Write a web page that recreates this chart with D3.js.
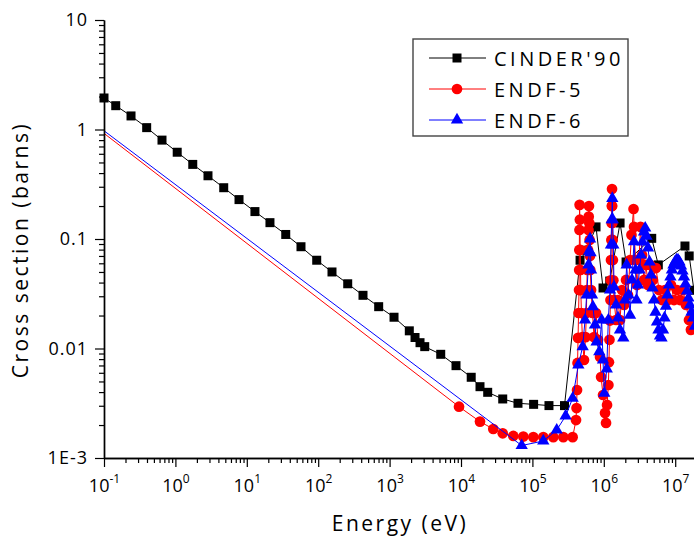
<!DOCTYPE html>
<html><head><meta charset="utf-8">
<script src="https://cdn.jsdelivr.net/npm/d3@7"></script>
<style>
body{margin:0;background:#fff}
svg{display:block}
text{font-family:"Open Sans",sans-serif;fill:#000}
</style>
</head><body>
<svg id="c" width="694" height="538"></svg>
<script>
// ---- DATA (energy in eV, cross section in barns) ----
const cinder = [
 [0.1,1.94],[0.146,1.65],[0.239,1.33],[0.396,1.04],[0.649,0.80],[1.06,0.62],[1.75,0.48],
 [2.86,0.378],[4.75,0.294],[7.78,0.229],[13.0,0.178],[21.1,0.141],[35.1,0.110],[57.4,0.085],
 [95.3,0.064],[156,0.050],[259,0.039],[424,0.0306],[703,0.0241],[1153,0.0193],[1888,0.0145],
 [2270,0.0126],[2667,0.0113],[3104,0.0104],[5200,0.00885],[8511,0.00697],[13900,0.00546],
 [18450,0.00448],[23650,0.00398],[38400,0.00346],[62800,0.00316],[104000,0.00309],
 [170600,0.00301],[281600,0.00301],[4.65e5,0.064],[5.75e5,0.079],[7.78e5,0.129],
 [9.75e5,0.0357],[1.21e6,0.0413],[1.69e6,0.140],[2.05e6,0.0617],[4.69e6,0.1014],
 [5.80e6,0.058],[1.37e7,0.0863],[1.57e7,0.070],[1.83e7,0.034]
];
const endf5 = [
 [1e-5,94],[9380,0.00294],[18450,0.00215],[28300,0.00184],[38400,0.00168],[54000,0.00159],
 [74600,0.00157],[103000,0.00155],[142000,0.00155],[196000,0.00155],[271000,0.00155],[366000,0.00155],
 [4.08e5,0.00222],[4.15e5,0.00286],[4.22e5,0.00418],[4.29e5,0.00738],[4.36e5,0.0125],[4.43e5,0.0211],
 [4.50e5,0.0342],[4.52e5,0.0521],[4.54e5,0.0794],[4.56e5,0.121],[4.58e5,0.205],[4.62e5,0.150],
 [4.67e5,0.0794],[4.72e5,0.0521],[4.76e5,0.0342],[4.86e5,0.0211],
 [5.01e5,0.0127],[5.28e5,0.00785],[5.55e5,0.0127],[5.70e5,0.0211],[5.78e5,0.0342],[5.86e5,0.0521],
 [6.01e5,0.0794],[6.10e5,0.121],[6.15e5,0.160],[6.20e5,0.200],[6.26e5,0.140],[6.33e5,0.098],[6.40e5,0.070],
 [6.47e5,0.0521],[6.63e5,0.0342],
 [6.95e5,0.0211],[7.30e5,0.0127],[7.78e5,0.0211],[8.30e5,0.0120],[8.86e5,0.00836],[9.16e5,0.00549],
 [9.75e5,0.00376],[1.04e6,0.00258],[1.074e6,0.00209],[1.11e6,0.00305],[1.16e6,0.00464],[1.18e6,0.0075],
 [1.20e6,0.0120],[1.22e6,0.0180],[1.24e6,0.0277],[1.25e6,0.042],[1.26e6,0.0643],[1.275e6,0.098],
 [1.285e6,0.140],[1.295e6,0.200],[1.303e6,0.286],[1.31e6,0.200],[1.32e6,0.140],[1.33e6,0.098],
 [1.34e6,0.0643],[1.36e6,0.042],
 [1.39e6,0.0277],[1.483e6,0.0182],[1.582e6,0.0277],[1.687e6,0.0182],[1.80e6,0.0342],[1.92e6,0.0250],
 [2.05e6,0.0423],[2.18e6,0.0308],[2.33e6,0.0643],[2.44e6,0.109],[2.61e6,0.188],[2.65e6,0.129],
 [2.78e6,0.0643],[2.92e6,0.038],[3.11e6,0.0643],[3.27e6,0.129],[3.43e6,0.0714],[3.66e6,0.0423],
 [3.90e6,0.058],[4.16e6,0.038],[4.44e6,0.058],[4.88e6,0.0423],[5.38e6,0.0543],[5.92e6,0.0342],
 [6.53e6,0.0277],[7.20e6,0.0342],[7.93e6,0.0277],[8.73e6,0.038],[9.62e6,0.0277],[1.06e7,0.0342],
 [1.167e7,0.0277],[1.285e7,0.0342],[1.416e7,0.025],[1.56e7,0.0182],[1.66e7,0.0148],[1.832e7,0.0182],[2.0e7,0.0148]
];
const endf6 = [
 [1e-5,90],[70800,0.0013],[142000,0.00143],[219000,0.0018],[292000,0.00242],[366000,0.00351],
 [4.40e5,0.00706],[5.06e5,0.0104],[5.46e5,0.0182],[5.75e5,0.0308],[6.10e5,0.058],[6.25e5,0.078],[6.42e5,0.100],
 [6.52e5,0.075],[6.63e5,0.0521],[6.84e5,0.0308],[7.03e5,0.0241],[7.52e5,0.0164],[7.92e5,0.0115],[8.65e5,0.00935],
 [9.33e5,0.0182],[9.75e5,0.00785],[1.016e6,0.0039],[1.10e6,0.0065],[1.156e6,0.0182],[1.222e6,0.0342],
 [1.26e6,0.0881],[1.29e6,0.150],[1.315e6,0.235],[1.335e6,0.150],[1.36e6,0.0881],[1.39e6,0.0365],[1.483e6,0.025],[1.582e6,0.019],
 [1.687e6,0.0148],[1.875e6,0.0125],[1.98e6,0.0277],[2.09e6,0.058],[2.22e6,0.0308],[2.33e6,0.0202],
 [2.48e6,0.0423],[2.65e6,0.0945],[2.78e6,0.0521],[2.87e6,0.0277],[3.01e6,0.038],[3.16e6,0.0521],
 [3.32e6,0.0714],[3.48e6,0.0939],[3.66e6,0.116],[3.80e6,0.126],[3.96e6,0.106],[4.16e6,0.0828],
 [4.37e6,0.0617],[4.58e6,0.0469],[4.81e6,0.0357],[5.05e6,0.0277],[5.30e6,0.0215],[5.56e6,0.0175],
 [5.83e6,0.0148],[6.12e6,0.013],[6.43e6,0.0125],[6.75e6,0.0148],[7.08e6,0.019],[7.43e6,0.0244],
 [7.80e6,0.0308],[8.19e6,0.038],[8.58e6,0.045],[9.0e6,0.0521],[9.44e6,0.058],[9.93e6,0.0617],
 [1.04e7,0.0643],[1.094e7,0.0643],[1.148e7,0.0617],[1.205e7,0.0567],[1.265e7,0.051],[1.327e7,0.045],
 [1.393e7,0.0388],[1.462e7,0.0335],[1.535e7,0.0289],[1.611e7,0.025],[1.69e7,0.0215],[1.774e7,0.019],[1.89e7,0.016]
];
const seriesNames = ["CINDER'90", "ENDF-5", "ENDF-6"];
const xMajor = [0.1, 1, 10, 100, 1e3, 1e4, 1e5, 1e6, 1e7];
const xExponents = ["-1", "0", "1", "2", "3", "4", "5", "6", "7"];
const yMajor = [1e-3, 1e-2, 0.1, 1, 10];
const yLabels = ["1E-3", "0.01", "0.1", "1", "10"];
const xTitle = "Energy (eV)";
const yTitle = "Cross section (barns)";

// ---- CHART ----
const svg = d3.select("#c");
const x = d3.scaleLog().domain([0.1, 2e7]).range([104, 696.7]);
const y = d3.scaleLog().domain([1e-3, 10]).range([458, 20]);

const defs = svg.append("defs");
defs.append("clipPath").attr("id", "lineClip").append("rect")
  .attr("x", 104).attr("y", 0).attr("width", 600).attr("height", 470);
defs.append("clipPath").attr("id", "markClip").append("rect")
  .attr("x", 95).attr("y", 0).attr("width", 610).attr("height", 470);

const styles = [
  {color: "#000000", sym: d3.symbolSquare, size: 81},
  {color: "#ff0000", sym: d3.symbolCircle, size: 90},
  {color: "#0000ff", sym: d3.symbolTriangle, size: 66}
];
const allSeries = [cinder, endf5, endf6];
const line = d3.line().x(d => x(d[0])).y(d => y(d[1]));

allSeries.forEach((data, i) => {
  const st = styles[i];
  const g = svg.append("g");
  g.append("path").datum(data).attr("d", line)
    .attr("fill", "none").attr("stroke", st.color).attr("stroke-width", 1)
    .attr("clip-path", "url(#lineClip)");
  g.append("g").attr("clip-path", "url(#markClip)")
    .selectAll("path").data(data).join("path")
    .attr("transform", d => `translate(${x(d[0])},${y(d[1])})`)
    .attr("d", d3.symbol().type(st.sym).size(st.size)())
    .attr("fill", st.color);
});

// minor tick values (2..9 within each decade)
const xMinor = [], yMinor = [];
for (let e = -1; e <= 7; e++) for (let m = 2; m <= 9; m++) { const v = m * Math.pow(10, e); if (v <= 2e7) xMinor.push(v); }
for (let e = -3; e <= 0; e++) for (let m = 2; m <= 9; m++) yMinor.push(m * Math.pow(10, e));

// x axis
const gxMin = svg.append("g").attr("transform", "translate(0,458)")
  .call(d3.axisBottom(x).tickValues(xMinor).tickSize(5).tickSizeOuter(0).tickFormat(""));
const gxMaj = svg.append("g").attr("transform", "translate(0,458)")
  .call(d3.axisBottom(x).tickValues(xMajor).tickSize(9).tickSizeOuter(0).tickPadding(12).tickFormat(() => "10"));
gxMaj.selectAll(".tick text").each(function(d, i) {
  d3.select(this).append("tspan").attr("dy", -9).attr("font-size", 12).text(xExponents[i]);
});
// y axis
const gyMin = svg.append("g").attr("transform", "translate(104,0)")
  .call(d3.axisLeft(y).tickValues(yMinor).tickSize(5).tickSizeOuter(0).tickFormat(""));
const gyMaj = svg.append("g").attr("transform", "translate(104,0)")
  .call(d3.axisLeft(y).tickValues(yMajor).tickSize(9).tickSizeOuter(0).tickPadding(7).tickFormat((d, i) => yLabels[i]));

[gxMin, gxMaj, gyMin, gyMaj].forEach(g => {
  g.attr("font-family", null).attr("font-size", 18);
  g.selectAll("path.domain").attr("stroke", "#000").attr("stroke-width", 1.4);
  g.selectAll(".tick line").attr("stroke", "#000").attr("stroke-width", 1.2);
  g.selectAll(".tick text").attr("fill", "#000").style("font-family", '"Open Sans", sans-serif');
});
gyMaj.selectAll(".tick text").attr("letter-spacing", 1);

// axis titles
svg.append("text").attr("x", 400).attr("y", 531).attr("text-anchor", "middle")
  .attr("font-size", 21).attr("letter-spacing", 2.5).text(xTitle);
svg.append("text").attr("transform", "translate(28,250) rotate(-90)").attr("text-anchor", "middle")
  .attr("font-size", 21).attr("letter-spacing", 2.5).text(yTitle);

// legend
const lg = svg.append("g");
lg.append("rect").attr("x", 413).attr("y", 39).attr("width", 215).attr("height", 97)
  .attr("fill", "#fff").attr("stroke", "#444").attr("stroke-width", 1.4);
const rowsY = [58, 89, 120];
seriesNames.forEach((name, i) => {
  const st = styles[i];
  lg.append("line").attr("x1", 429).attr("x2", 486).attr("y1", rowsY[i]).attr("y2", rowsY[i])
    .attr("stroke", st.color).attr("stroke-width", 1);
  lg.append("path").attr("transform", `translate(457,${rowsY[i]})`)
    .attr("d", d3.symbol().type(st.sym).size(st.size)()).attr("fill", st.color);
  lg.append("text").attr("x", 494).attr("y", rowsY[i] + 7.5).attr("font-size", 20)
    .attr("letter-spacing", 3.5).text(name);
});
</script>
</body></html>
